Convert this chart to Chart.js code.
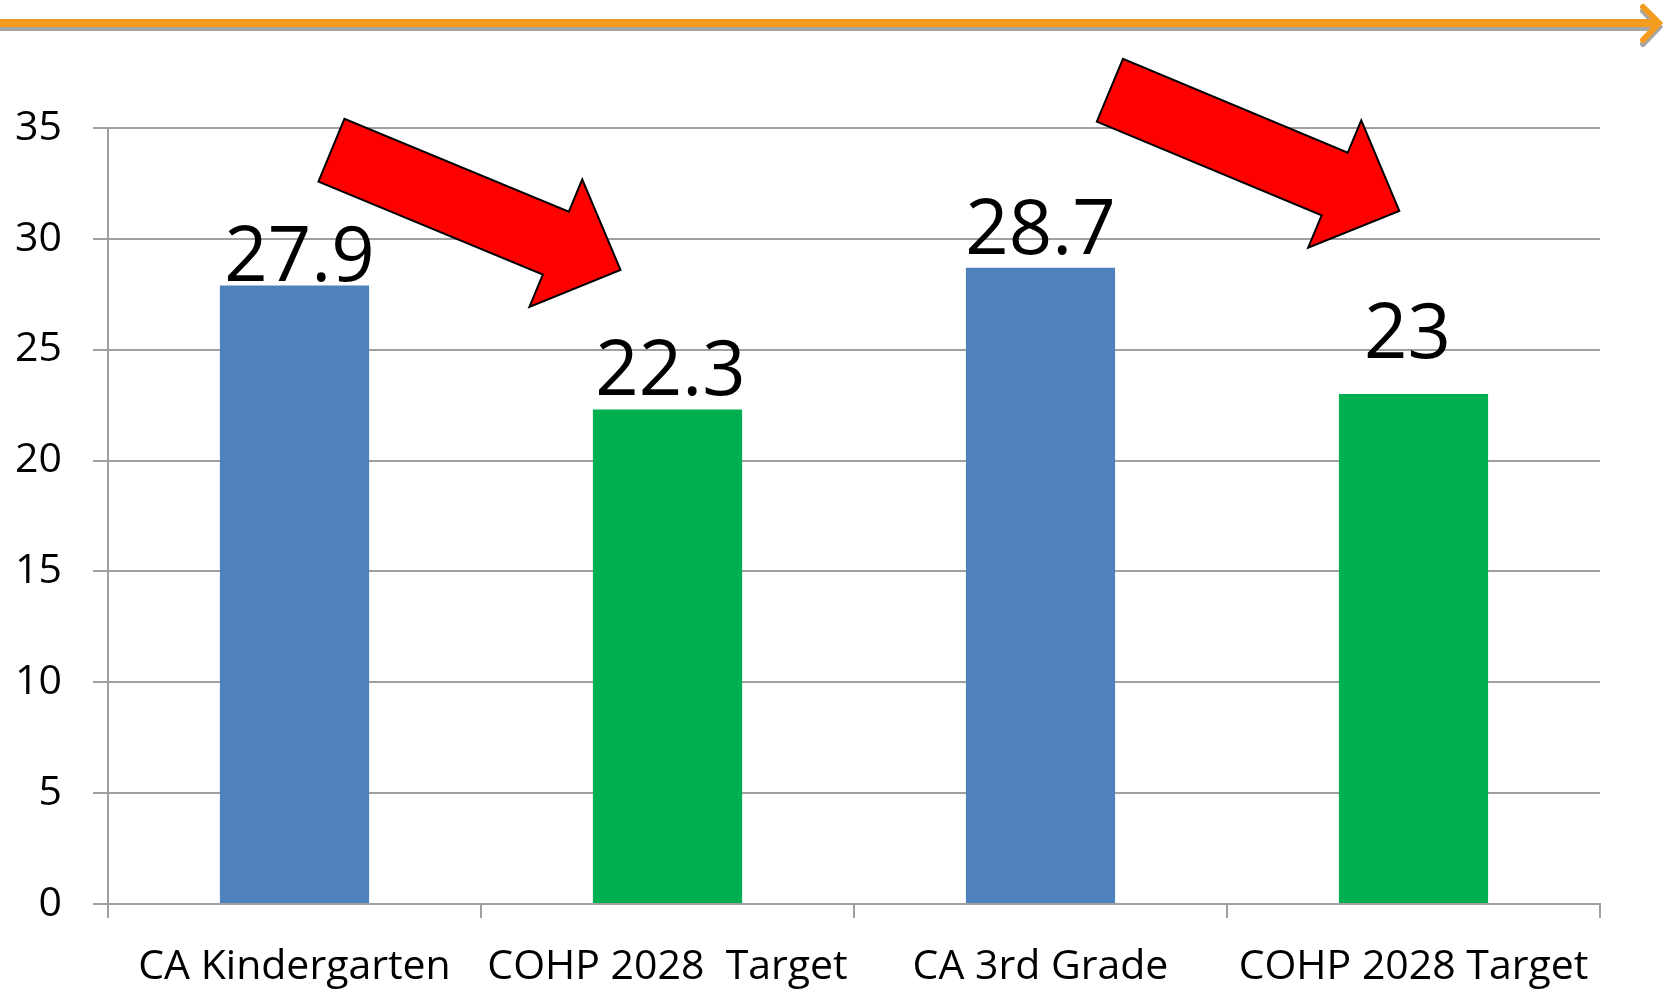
<!DOCTYPE html>
<html>
<head>
<meta charset="utf-8">
<script src="https://cdn.jsdelivr.net/npm/chart.js@4"></script>
<style>
  html, body { margin: 0; padding: 0; background: #fff; }
  #wrap { width: 1663px; height: 989px; position: relative; }
</style>
</head>
<body>
<div id="wrap"><canvas id="barChart"></canvas></div>
<script>
// categories and values
const categories = ['CA Kindergarten', 'COHP 2028  Target', 'CA 3rd Grade', 'COHP 2028 Target'];
const values = [27.9, 22.3, 28.7, 23];
const barColors = ['#4F81BD', '#00B050', '#4F81BD', '#00B050'];
const yTicks = [0, 5, 10, 15, 20, 25, 30, 35];

// nudges for the value labels (px): lift above bar, horizontal shift
const labelLift = [4, 15, 14, 36];
const labelShift = [5, 3, 0, -6];

// red arrows: tail and tip in chart units (category index, value)
const arrows = [
  { tail: [0.099, 34.0], tip: [0.874, 28.6] },
  { tail: [2.186, 36.7], tip: [2.962, 31.26] }
];

const FONT = "'Open Sans', sans-serif";

// orange bar across the top of the slide
const topLinePlugin = {
  id: 'topLine',
  beforeDraw(chart) {
    const c = chart.ctx;
    const w = chart.width;
    c.save();
    c.fillStyle = '#fff';
    c.fillRect(0, 0, w, chart.height);
    const drawLine = (dy, col) => {
      c.fillStyle = col;
      c.fillRect(0, 19 + dy, w - 8, 8);
      c.strokeStyle = col;
      c.lineWidth = 6;
      c.lineCap = 'round';
      c.beginPath();
      c.moveTo(w - 20, 7 + dy);
      c.lineTo(w - 4, 23 + dy);
      c.lineTo(w - 20, 40 + dy);
      c.stroke();
    };
    drawLine(4, '#A6A6A6');
    drawLine(0, '#F39C1F');
    c.restore();
  }
};

// values above the bars
const valueLabels = {
  id: 'valueLabels',
  afterDatasetsDraw(chart) {
    const c = chart.ctx;
    const meta = chart.getDatasetMeta(0);
    c.save();
    c.font = '76px ' + FONT;
    c.fillStyle = '#000';
    c.textAlign = 'center';
    c.textBaseline = 'alphabetic';
    meta.data.forEach((bar, i) => {
      c.fillText(String(values[i]), bar.x + labelShift[i], bar.y - labelLift[i]);
    });
    c.restore();
  }
};

// block arrows
const arrowPlugin = {
  id: 'arrows',
  afterDraw(chart) {
    const c = chart.ctx;
    const xs = chart.scales.x, ys = chart.scales.y;
    const shaftW = 68, headW = 138, headL = 70;
    c.save();
    arrows.forEach(a => {
      const tx = xs.getPixelForValue(a.tail[0]), ty = ys.getPixelForValue(a.tail[1]);
      const px = xs.getPixelForValue(a.tip[0]), py = ys.getPixelForValue(a.tip[1]);
      const len = Math.hypot(px - tx, py - ty);
      const ux = (px - tx) / len, uy = (py - ty) / len;
      const nx = -uy, ny = ux;
      const bx = px - ux * headL, by = py - uy * headL;
      const pts = [
        [tx + nx * shaftW / 2, ty + ny * shaftW / 2],
        [bx + nx * shaftW / 2, by + ny * shaftW / 2],
        [bx + nx * headW / 2, by + ny * headW / 2],
        [px, py],
        [bx - nx * headW / 2, by - ny * headW / 2],
        [bx - nx * shaftW / 2, by - ny * shaftW / 2],
        [tx - nx * shaftW / 2, ty - ny * shaftW / 2]
      ];
      c.beginPath();
      pts.forEach((p, i) => i ? c.lineTo(p[0], p[1]) : c.moveTo(p[0], p[1]));
      c.closePath();
      c.fillStyle = '#FF0000';
      c.fill();
      c.strokeStyle = '#000';
      c.lineWidth = 2;
      c.lineJoin = 'miter';
      c.stroke();
    });
    c.restore();
  }
};

const ctx = document.getElementById('barChart').getContext('2d');
const chart = new Chart(ctx, {
  type: 'bar',
  data: {
    labels: categories,
    datasets: [{
      data: values,
      backgroundColor: barColors,
      barPercentage: 0.4,
      categoryPercentage: 1.0
    }]
  },
  plugins: [topLinePlugin, valueLabels, arrowPlugin],
  options: {
    responsive: true,
    maintainAspectRatio: false,
    animation: false,
    layout: { padding: { top: 128, right: 63, left: 0, bottom: 0 } },
    plugins: { legend: { display: false }, tooltip: { enabled: false } },
    scales: {
      x: {
        grid: { drawOnChartArea: false, color: '#A0A0A0', lineWidth: 2, tickLength: 14 },
        border: { color: '#A0A0A0', width: 2 },
        ticks: { color: '#000', font: { family: FONT, size: 41 }, padding: 25, maxRotation: 0, autoSkip: false },
        afterFit(scale) { scale.height = 85; }
      },
      y: {
        min: 0, max: 35,
        afterBuildTicks(scale) { scale.ticks = yTicks.map(v => ({ value: v })); },
        grid: { color: '#A0A0A0', lineWidth: 2, tickLength: 15 },
        border: { color: '#A0A0A0', width: 2 },
        ticks: { color: '#000', font: { family: FONT, size: 41 }, padding: 31 },
        afterFit(scale) { scale.width = 108; }
      }
    }
  }
});
</script>
</body>
</html>
